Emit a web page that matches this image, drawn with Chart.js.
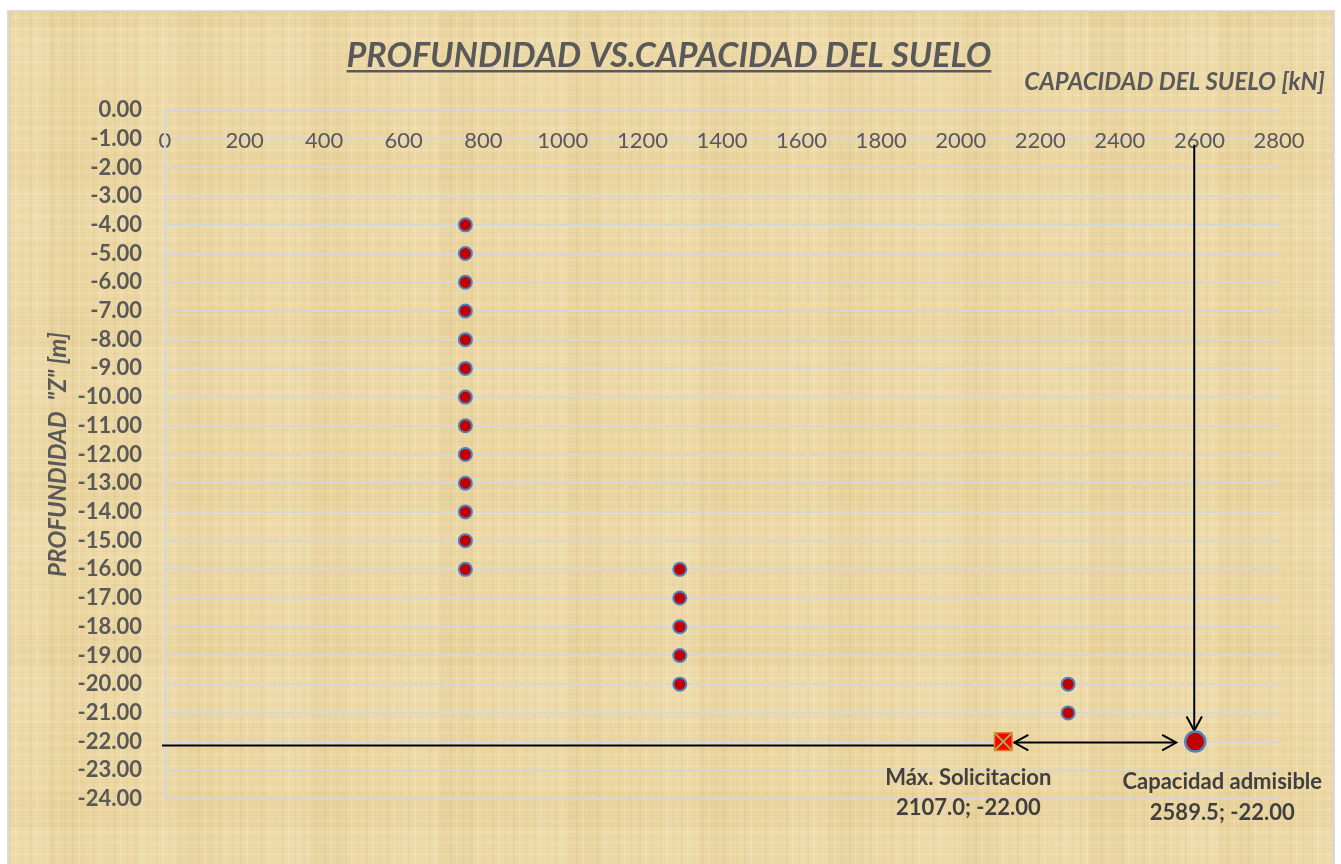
<!DOCTYPE html>
<html>
<head>
<meta charset="utf-8">
<title>Profundidad vs. capacidad del suelo</title>
<script src="https://cdn.jsdelivr.net/npm/chart.js@4.4.1/dist/chart.umd.min.js"></script>
<style>
  html, body { margin: 0; padding: 0; background: #ffffff; }
  body { width: 1341px; height: 864px; position: relative; overflow: hidden; }
  /* fondo tipo papiro */
  #marco {
    position: absolute; left: 7px; top: 10px; width: 1324px; height: 870px;
    border: 2px solid #d9d9d9;
    background-color: #ecd7a3;
    background-image:
      repeating-linear-gradient(90deg, rgba(150,110,40,0.06) 0 2px, transparent 2px 6px, rgba(255,248,225,0.14) 6px 8px, transparent 8px 13px, rgba(140,100,40,0.05) 13px 14px, transparent 14px 21px),
      repeating-linear-gradient(0deg, rgba(150,110,40,0.05) 0 1px, transparent 1px 5px, rgba(255,248,225,0.12) 5px 7px, transparent 7px 11px),
      repeating-linear-gradient(90deg, rgba(255,245,215,0.08) 0 40px, rgba(170,130,60,0.035) 40px 75px, transparent 75px 130px),
      repeating-linear-gradient(0deg, rgba(255,245,215,0.07) 0 55px, rgba(170,130,60,0.03) 55px 90px, transparent 90px 160px);
  }
  #grafico { position: absolute; left: 0; top: 0; }
</style>
</head>
<body>
<div id="marco"></div>
<canvas id="grafico" width="1341" height="864"></canvas>
<script>
// Ensayo de capacidad: profundidad [m] y capacidad del suelo [kN]
const profundidad = [-4, -5, -6, -7, -8, -9, -10, -11, -12, -13, -14, -15, -16,
                     -16, -17, -18, -19, -20,
                     -20, -21];
const capacidad = [755, 755, 755, 755, 755, 755, 755, 755, 755, 755, 755, 755, 755,
                   1294, 1294, 1294, 1294, 1294,
                   2270, 2270];

const capacidadAdmisible = { x: 2589.5, y: -22.0 };
const maxSolicitacion = { x: 2107.0, y: -22.0 };

const ejeX = { min: 0, max: 2800, paso: 200 };
const ejeY = { min: -24, max: 0, paso: 1 };

const puntos = capacidad.map((c, i) => ({ x: c, y: profundidad[i] }));

const GRIS = '#595959';

function flecha(ctx, x0, y0, x1, y1) {
  // punta abierta en (x1, y1)
  const ang = Math.atan2(y1 - y0, x1 - x0);
  const largo = 16, abre = 0.5;
  ctx.beginPath();
  ctx.moveTo(x1 - largo * Math.cos(ang - abre), y1 - largo * Math.sin(ang - abre));
  ctx.lineTo(x1, y1);
  ctx.lineTo(x1 - largo * Math.cos(ang + abre), y1 - largo * Math.sin(ang + abre));
  ctx.stroke();
}

const anotaciones = {
  id: 'anotaciones',
  beforeDatasetsDraw(chart) {
    const { ctx, scales: { x, y } } = chart;
    const yp = y.getPixelForValue(maxSolicitacion.y);
    const xs = x.getPixelForValue(maxSolicitacion.x);
    const xc = x.getPixelForValue(capacidadAdmisible.x);
    ctx.save();
    ctx.strokeStyle = '#000000';
    ctx.lineWidth = 2;
    // linea desde el eje hasta la solicitacion
    ctx.beginPath();
    ctx.moveTo(x.getPixelForValue(0) - 3, yp + 4);
    ctx.lineTo(xs - 9, yp + 4);
    ctx.stroke();
    // doble flecha entre solicitacion y capacidad
    ctx.beginPath();
    ctx.moveTo(xs + 11, yp + 1);
    ctx.lineTo(xc - 19, yp + 1);
    ctx.stroke();
    flecha(ctx, xc - 9, yp + 1, xs + 11, yp + 1);
    flecha(ctx, xs + 11, yp + 1, xc - 19, yp + 1);
    // flecha vertical desde el eje de capacidad
    ctx.beginPath();
    ctx.moveTo(xc - 1, y.getPixelForValue(-1) + 6);
    ctx.lineTo(xc - 1, yp - 11);
    ctx.stroke();
    flecha(ctx, xc - 1, yp - 40, xc - 1, yp - 11);
    ctx.restore();
  },
  afterDraw(chart) {
    const { ctx, scales: { x, y } } = chart;
    ctx.save();
    ctx.fillStyle = GRIS;
    // titulo subrayado
    ctx.font = 'italic bold 34px Lato';
    ctx.textAlign = 'center';
    ctx.textBaseline = 'alphabetic';
    const titulo = 'PROFUNDIDAD VS.CAPACIDAD DEL SUELO';
    const cx = 669;
    ctx.fillText(titulo, cx, 67);
    const w = ctx.measureText(titulo).width;
    ctx.fillRect(cx - w / 2, 70, w, 2.5);
    // titulo del eje de capacidad
    ctx.font = 'italic bold 24px Lato';
    ctx.textAlign = 'right';
    ctx.textBaseline = 'middle';
    ctx.fillText('CAPACIDAD DEL SUELO [kN]', 1325, 82);
    // etiquetas de los puntos de control
    ctx.fillStyle = '#404040';
    ctx.font = 'bold 22px Lato';
    ctx.textAlign = 'center';
    const ys = y.getPixelForValue(maxSolicitacion.y);
    const xs = x.getPixelForValue(maxSolicitacion.x);
    ctx.fillText('Máx. Solicitacion', xs - 35, ys + 36);
    ctx.fillText(maxSolicitacion.x.toFixed(1) + '; ' + maxSolicitacion.y.toFixed(2), xs - 35, ys + 66);
    const xc = x.getPixelForValue(capacidadAdmisible.x);
    const yc = y.getPixelForValue(capacidadAdmisible.y);
    ctx.fillText('Capacidad admisible', xc + 27, yc + 40);
    ctx.fillText(capacidadAdmisible.x.toFixed(1) + '; ' + capacidadAdmisible.y.toFixed(2), xc + 27, yc + 71);
    ctx.restore();
  }
};

new Chart(document.getElementById('grafico'), {
  type: 'scatter',
  data: {
    datasets: [
      {
        label: 'Capacidad',
        data: puntos,
        pointRadius: 6.5,
        pointBackgroundColor: '#c00000',
        pointBorderColor: '#4f81bd',
        pointBorderWidth: 2
      },
      {
        label: 'Capacidad admisible',
        data: [capacidadAdmisible],
        pointRadius: 10,
        pointBackgroundColor: '#c00000',
        pointBorderColor: '#4f81bd',
        pointBorderWidth: 2.5
      },
      {
        // aspa encima del cuadrado (los primeros datasets se dibujan arriba)
        label: 'Máx. Solicitacion (marca)',
        data: [maxSolicitacion],
        pointStyle: 'crossRot',
        pointRadius: 12,
        pointBorderColor: '#9bbb59',
        pointBorderWidth: 1.8
      },
      {
        label: 'Máx. Solicitacion',
        data: [maxSolicitacion],
        pointStyle: 'rect',
        pointRadius: 12.5,
        pointBackgroundColor: '#ff0000',
        pointBorderColor: '#d8842c',
        pointBorderWidth: 1.5
      }
    ]
  },
  options: {
    responsive: false,
    animation: false,
    layout: { padding: { left: 20, right: 62, top: 110, bottom: 65 } },
    plugins: {
      legend: { display: false },
      tooltip: { enabled: false },
      title: { display: false }
    },
    scales: {
      x: {
        type: 'linear',
        position: { y: -1 },
        min: ejeX.min,
        max: ejeX.max,
        grid: { display: false },
        border: { display: false },
        ticks: {
          stepSize: ejeX.paso,
          padding: -19,
          color: GRIS,
          font: { family: 'Lato', size: 22 },
          callback: v => String(v)
        }
      },
      y: {
        type: 'linear',
        min: ejeY.min,
        max: ejeY.max,
        afterFit(scale) { scale.width = 145; },
        grid: { color: '#d6d6d6', lineWidth: 2, drawTicks: false },
        border: { display: true, color: '#d6d6d6', width: 2 },
        ticks: {
          stepSize: ejeY.paso,
          autoSkip: false,
          padding: 23,
          color: GRIS,
          font: { family: 'Lato', size: 22, weight: 'bold', lineHeight: 1 },
          callback: v => v.toFixed(2)
        },
        title: {
          display: true,
          text: 'PROFUNDIDAD  "Z" [m]',
          color: GRIS,
          padding: { top: 24, bottom: 0 },
          font: { family: 'Lato', size: 24, weight: 'bold', style: 'italic' }
        }
      }
    }
  },
  plugins: [anotaciones]
});
</script>
</body>
</html>
